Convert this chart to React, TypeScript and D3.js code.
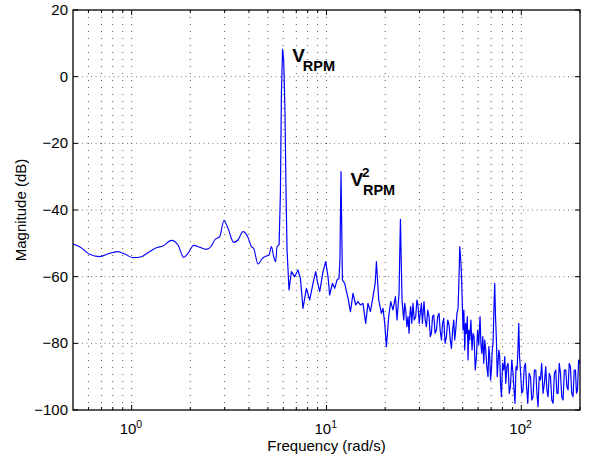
import * as d3 from 'd3';

// smooth low-frequency part of the spectrum (rad/s, dB)
const lowFreq = [
  0.5, 0.541, 0.609, 0.685, 0.771, 0.851, 0.921, 1.016, 1.121, 1.212, 1.339, 1.448,
  1.599, 1.729, 1.849, 1.945, 2.081, 2.234, 2.418, 2.566, 2.668, 2.83, 2.977, 3.122,
  3.339, 3.513, 3.727, 3.954, 4.117, 4.229, 4.451, 4.688, 4.914, 5.068, 5.214, 5.358,
  5.486, 5.571, 5.71,
];
const lowMag = [
  -50.2, -51, -53.3, -54, -53, -52.5, -53.2, -54.3, -54, -52.8, -51.3, -50.8,
  -49.1, -50.5, -54.2, -53, -50.6, -51.2, -51.8, -50.8, -49, -48, -43.2, -45.5,
  -49.7, -49, -46.5, -48.2, -51, -51.5, -56.2, -54.5, -53.8, -53.5, -51, -54,
  -55.5, -51, -50.5,
];

// V_RPM peak and the harmonics up to ~50 rad/s
const midFreq = [
  5.8, 5.87, 5.95, 6.03, 6.12, 6.2, 6.27, 6.42, 6.604, 6.867, 7.141, 7.345,
  7.576, 7.886, 8.2, 8.524, 8.803, 8.98, 9.229, 9.594, 9.906, 10.18, 10.38, 10.72,
  11.02, 11.32, 11.59, 11.72, 11.87, 11.97, 12.07, 12.4, 12.9, 13.27, 13.68, 14.12,
  14.51, 14.93, 15.39, 15.89, 16.33, 16.8, 17.33, 17.78, 18.04, 18.32, 18.54, 19.13,
  19.5, 19.9, 20.3, 20.86, 21.36, 21.95, 22.58, 23.01, 23.57, 23.82, 23.96, 24.18,
  24.41, 24.91, 25.2, 25.5, 25.85, 26.21, 26.52, 26.8, 27.05, 27.4, 27.8, 28.2,
  28.7, 29.1, 29.49, 29.9, 30.34, 30.7, 31.07, 31.4, 31.66, 32.1, 32.57, 33.1,
  33.59, 34.1, 34.56, 35.0, 35.51, 36.1, 36.67, 37.2, 37.81, 38.3, 38.9, 39.4,
  39.96, 40.6, 41.26, 41.9, 42.56, 43.2, 43.78, 44.4, 44.98, 45.5, 46.05, 46.7,
  47.33, 47.89, 48.29, 48.86, 49.26,
];
const midMag = [
  -35, -5, 8.2, 5, -10, -35, -51.5, -64, -58.5, -60, -58, -60.5,
  -69.5, -63.5, -67, -62, -58.5, -61.5, -64.5, -58.5, -55.5, -60, -65.5, -62,
  -63.5, -61, -60.5, -55, -28.5, -45, -61, -62, -66.5, -70.5, -65, -68.5,
  -67.5, -68.5, -68, -74, -68, -70.5, -66, -62, -55.5, -62, -67, -71,
  -69.5, -74, -81, -72, -67.5, -70, -66, -73, -65, -50, -42.8, -55,
  -67, -73, -68, -70, -75, -72, -77, -71, -69, -74, -68, -73,
  -72, -67, -68.5, -74, -70.5, -68, -74, -70, -67.5, -73, -75, -70,
  -72, -78, -77, -72, -71.5, -77, -76, -72, -71, -76, -79, -74,
  -72.5, -80, -78, -73, -74.5, -79, -81.5, -76, -73, -79, -76, -71,
  -69.5, -60, -51, -55, -59,
];

// noisy high-frequency tail
const highFreq = [
  50.2, 50.7, 51.22, 51.7, 52.26, 52.8, 53.26, 53.8, 54.34, 55.1, 55.84, 56.5,
  57.18, 58.0, 58.83, 59.6, 60.45, 61.0, 61.38, 62.0, 62.62, 63.4, 64.12, 64.9,
  65.64, 66.5, 67.46, 68.1, 68.82, 69.5, 70.22, 70.9, 71.56, 72.3, 73.0, 73.7,
  74.5, 75.2, 75.92, 76.7, 77.46, 78.2, 79.03, 80.1, 81.22, 82.2, 83.16, 84.3,
  85.45, 86.7, 87.9, 89.3, 90.65, 91.7, 92.81, 93.9, 95.03, 96.0, 96.98, 97.9,
  98.95, 100.5, 102.0, 103.5, 105.0, 106.4, 107.9, 109.6, 111.4, 113.1, 114.8, 116.7,
  118.6, 120.2, 121.8, 123.5, 125.3, 127.2, 129.2, 131.3, 133.4, 135.2, 137.1, 139.1,
  141.1, 143.3, 145.5, 147.8, 150.2, 152.2, 154.3, 156.5, 158.8, 161.2, 163.7, 166.3,
  169.0, 171.3, 173.7, 176.1, 178.6, 181.4, 184.2, 186.8, 189.5, 191.8, 194.1, 196.8,
  199.5,
];
const highMag = [
  -76, -70, -82, -74, -77, -72, -85, -76, -79, -73, -82, -77,
  -78, -88, -84, -76, -80.5, -75, -72, -80, -83, -78, -86, -79,
  -82, -87, -90, -81, -84, -91, -88, -82, -80, -70, -62, -72,
  -79, -90, -86, -82, -84, -92, -96, -86, -88, -84, -92, -87,
  -86, -95, -93, -85, -89, -94, -98, -87, -88, -82, -74, -84,
  -88, -95, -94, -87, -86, -93, -98, -89, -90, -97, -96, -88,
  -88, -95, -99, -90, -91, -86, -95, -92, -87, -94, -96, -89,
  -90, -97, -98, -89, -88, -95, -95, -86, -89, -96, -97, -88,
  -88, -93, -94, -86, -87, -95, -96, -88, -88, -95, -94, -85,
  -86,
];

const yTicks = [-100, -80, -60, -40, -20, 0, 20];
const xMajor = [1, 10, 100];
const xMinor = [0.6, 0.7, 0.8, 0.9, 2, 3, 4, 5, 6, 7, 8, 9, 20, 30, 40, 50, 60, 70, 80, 90, 200];

const notes = [
  { freq: 6.68, db: 4.4, sup: '' },
  { freq: 13.27, db: -32.7, sup: '2' },
];

const W = 589;
const H = 462;
const m = { left: 73, top: 10, right: 9, bottom: 52 };
const font = 'Arial, "Liberation Sans", Helvetica, sans-serif';

const App = () => {
  const x = d3.scaleLog().domain([0.5, 200]).range([m.left, W - m.right]);
  const y = d3.scaleLinear().domain([-100, 20]).range([H - m.bottom, m.top]);

  const lowPts = lowFreq.map((f, i) => [f, lowMag[i]]);
  const restPts = [...midFreq, ...highFreq].map((f, i) => [f, [...midMag, ...highMag][i]]);
  restPts.unshift(lowPts[lowPts.length - 1]);

  const smooth = d3
    .line()
    .x((d) => x(d[0]))
    .y((d) => y(d[1]))
    .curve(d3.curveMonotoneX);
  const line = d3
    .line()
    .x((d) => x(d[0]))
    .y((d) => y(d[1]));

  const x0 = m.left;
  const x1 = W - m.right;
  const y0 = H - m.bottom;
  const y1 = m.top;
  const fmt = (v) => (v < 0 ? '\u2212' + Math.abs(v) : String(v));

  return (
    <svg
      width={W}
      height={H}
      style={{ position: 'absolute', left: 0, top: 0, background: '#fff' }}
      fontFamily={font}
    >
      <rect x={0} y={0} width={W} height={H} fill='#fff' />

      {/* grid */}
      {[...xMajor, ...xMinor].filter((v) => v < 200).map((v) => (
        <line
          key={'gx' + v}
          x1={x(v)}
          x2={x(v)}
          y1={y0}
          y2={y1}
          stroke='#555'
          strokeWidth={1}
          strokeDasharray='1 6'
        />
      ))}
      {yTicks.slice(1, -1).map((v) => (
        <line
          key={'gy' + v}
          x1={x0}
          x2={x1}
          y1={y(v)}
          y2={y(v)}
          stroke='#777'
          strokeWidth={1}
          strokeDasharray='1 3.5'
        />
      ))}

      {/* data */}
      <path d={smooth(lowPts)} fill='none' stroke='#0000ff' strokeWidth={1.1} />
      <path d={line(restPts)} fill='none' stroke='#0000ff' strokeWidth={1.2} strokeLinejoin='round' />

      {/* box */}
      <rect x={x0} y={y1} width={x1 - x0} height={y0 - y1} fill='none' stroke='#000' strokeWidth={1.3} />

      {/* ticks */}
      {yTicks.map((v) => (
        <g key={'ty' + v}>
          <line x1={x0} x2={x0 + 5} y1={y(v)} y2={y(v)} stroke='#000' />
          <line x1={x1} x2={x1 - 5} y1={y(v)} y2={y(v)} stroke='#000' />
          <text x={x0 - 5} y={y(v) + 5} textAnchor='end' fontSize={15}>
            {fmt(v)}
          </text>
        </g>
      ))}
      {xMajor.map((v, i) => (
        <g key={'tx' + v}>
          <line x1={x(v)} x2={x(v)} y1={y0} y2={y0 - 5} stroke='#000' />
          <line x1={x(v)} x2={x(v)} y1={y1} y2={y1 + 5} stroke='#000' />
          <text x={x(v) - 12} y={y0 + 24} fontSize={15}>
            10
            <tspan dy={-6} fontSize={10.5}>
              {i}
            </tspan>
          </text>
        </g>
      ))}
      {xMinor.map((v) => (
        <g key={'tm' + v}>
          <line x1={x(v)} x2={x(v)} y1={y0} y2={y0 - 3} stroke='#000' />
          <line x1={x(v)} x2={x(v)} y1={y1} y2={y1 + 3} stroke='#000' />
        </g>
      ))}

      {/* axis labels */}
      <text x={(x0 + x1) / 2} y={451} textAnchor='middle' fontSize={15}>
        Frequency (rad/s)
      </text>
      <text
        transform={`translate(26,${(y0 + y1) / 2}) rotate(-90)`}
        textAnchor='middle'
        fontSize={15}
      >
        Magnitude (dB)
      </text>

      {/* annotations */}
      {notes.map((n) => (
        <g key={n.freq} fontWeight='bold'>
          <text x={x(n.freq)} y={y(n.db)} fontSize={19}>
            V
          </text>
          {n.sup && (
            <text x={x(n.freq) + 11.5} y={y(n.db) - 8.5} fontSize={13.5}>
              {n.sup}
            </text>
          )}
          <text x={x(n.freq) + (n.sup ? 12.5 : 10.5)} y={y(n.db) + 9} fontSize={14.5}>
            RPM
          </text>
        </g>
      ))}
    </svg>
  );
};

export default App;
